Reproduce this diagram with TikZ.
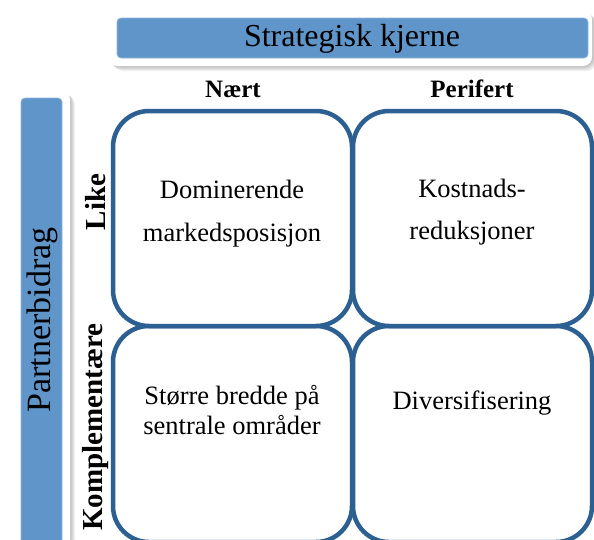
\documentclass[tikz,border=0pt]{standalone}
\usepackage{fontspec}
\setmainfont{Liberation Serif}
\definecolor{bandblue}{HTML}{5F95C8}
\definecolor{boxblue}{HTML}{2C5F92}
\begin{document}
\begin{tikzpicture}[x=1pt,y=-1pt,
  cell/.style={draw=boxblue,line width=4.5pt,rounded corners=36pt,fill=white},
  celltext/.style={font=\fontsize{26.5}{30}\selectfont,align=center},
  headtext/.style={font=\bfseries\fontsize{25}{30}\selectfont},
  sidetext/.style={font=\bfseries\fontsize{29}{32}\selectfont,rotate=90},
  bandtext/.style={font=\fontsize{32}{36}\selectfont},
  outerband/.style={fill=white,rounded corners=9pt},
  innerband/.style={fill=bandblue,draw=bandblue!70!white,line width=0.6pt,rounded corners=4pt},
  shade/.style={fill=black,opacity=0.05,rounded corners=10pt}]
\useasboundingbox (0,0) rectangle (594,539);
\clip (0,0) rectangle (594,539);
\fill[white] (0,0) rectangle (594,539);
% shadows
\foreach \d in {1,2,3,4,5}{
  \fill[shade] (108+\d,10+\d) rectangle (592+\d,66+\d);
  \fill[shade] (12+\d,90+\d) rectangle (70+\d,560);
}
% top banner
\fill[outerband] (108,10) rectangle (592,66);
\filldraw[innerband] (117,18) rectangle (588,58);
\node[bandtext] (sk) at (352,39) {Strategisk kjerne};
% left banner
\fill[outerband] (12,90) rectangle (70,560);
\filldraw[innerband] (21,98) rectangle (62,550);
\node[bandtext,font=\fontsize{34}{38}\selectfont,rotate=90] (pb) at (42,320) {Partnerbidrag};
% column / row headers
\node[headtext] (naert) at (233,89) {Nært};
\node[headtext] (perifert) at (472,89) {Perifert};
\node[sidetext] (like) at (96,202) {Like};
\node[sidetext] (kompl) at (96,427) {Komplementære};
% cells
\draw[cell] (353,326) rectangle (592,542);
\draw[cell] (113,326) rectangle (352,542);
\draw[cell] (353,111) rectangle (592,326);
\draw[cell] (113,111) rectangle (352,326);
\node[celltext] (dom) at (232,189) {Dominerende};
\node[celltext] (mark) at (232,235) {markedsposisjon};
\node[celltext] (kost) at (472,188) {Kostnads-};
\node[celltext] (red) at (472,233) {reduksjoner};
\node[celltext] (stor) at (232,410) {Større bredde på\\sentrale områder};
\node[celltext] (div) at (472,403) {Diversifisering};
\end{tikzpicture}
\end{document}
